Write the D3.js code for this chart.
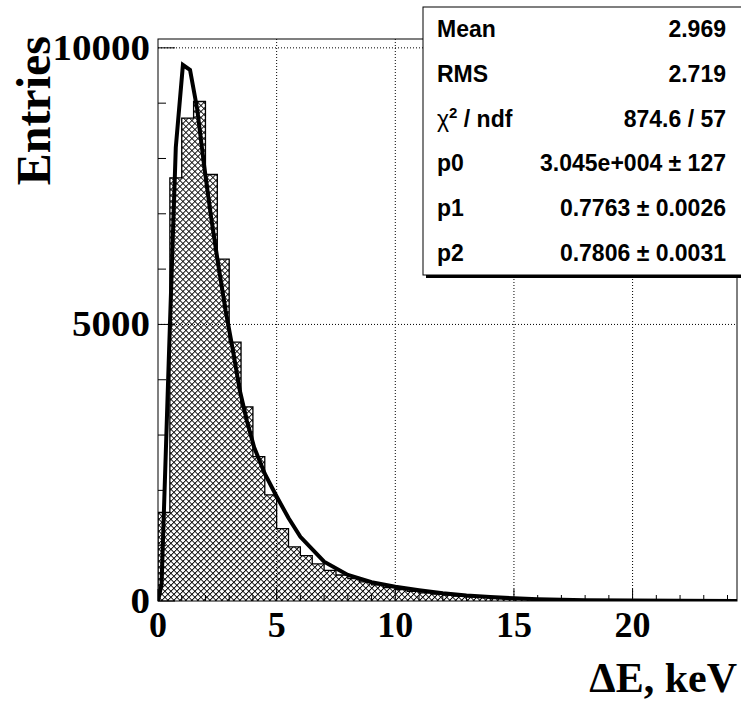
<!DOCTYPE html>
<html>
<head>
<meta charset="utf-8">
<title>Delta E histogram</title>
<script src="https://d3js.org/d3.v7.min.js"></script>
<style>
  body { margin: 0; background: #fff; }
  svg { display: block; }
</style>
</head>
<body>
<svg width="741" height="702"></svg>
<script>
// histogram: bin width 0.5 keV, left edges from 0
const binWidth = 0.5;
const counts = [1600, 7650, 8730, 9030, 7710, 6180, 4680, 3510, 2610, 1920,
                1310, 980, 820, 670, 555, 470, 405, 345, 290, 240,
                205, 175, 148, 125, 105, 90, 76, 64, 54, 46,
                39, 33, 28, 24, 20, 17, 14, 12, 10, 9,
                8, 7, 6, 5, 4, 4, 3, 3, 2];

// fit curve
const fitX = [0, 0.15, 0.45, 0.75, 1.05, 1.35, 1.65, 1.95, 2.25, 2.55, 2.85, 3.15, 3.45, 3.75, 4.05,
              4.5, 5, 5.5, 6, 7, 8, 9, 10, 11, 12, 13, 14, 15, 16, 18, 20, 22, 24.4];
const fitY = [0, 300, 4300, 8200, 9690, 9600, 8900, 7850, 6900, 6050, 5250, 4550, 3800, 3250, 2780,
              2300, 1890, 1500, 1160, 710, 470, 340, 259, 195, 139, 100, 72, 48, 32, 15, 7, 3, 1];

const xMajor = [0, 5, 10, 15, 20];
const yMajor = [0, 5000, 10000];
const yLabels = ["0", "5000", "10000"];

const statNames = ["Mean", "RMS", "chi", "p0", "p1", "p2"];
const statValues = ["2.969", "2.719", "874.6 / 57", "3.045e+004 \u00b1 127", "0.7763 \u00b1 0.0026", "0.7806 \u00b1 0.0031"];

const fLeft = 158, fRight = 737, fTop = 39, fBottom = 601;

const svg = d3.select("svg");

const x = d3.scaleLinear().domain([0, 24.4]).range([fLeft, fRight]);
const y = d3.scaleLinear().domain([0, 10160]).range([fBottom, fTop]);

// crosshatch fill
const defs = svg.append("defs");
const pat = defs.append("pattern")
    .attr("id", "hatch")
    .attr("patternUnits", "userSpaceOnUse")
    .attr("width", 4.24).attr("height", 4.24)
    .attr("patternTransform", "rotate(45)");
pat.append("path")
    .attr("d", "M0,0 L4.24,0 M0,0 L0,4.24")
    .attr("stroke", "#000").attr("stroke-width", 1.8);

defs.append("clipPath").attr("id", "frameClip")
  .append("rect")
    .attr("x", fLeft).attr("y", fTop - 10)
    .attr("width", fRight - fLeft).attr("height", fBottom - fTop + 10);

// grid
const grid = svg.append("g").attr("stroke", "#000").attr("stroke-width", 1)
    .attr("stroke-dasharray", "1,2");
xMajor.filter(v => v > 0).forEach(v => {
  grid.append("line").attr("x1", x(v)).attr("x2", x(v)).attr("y1", fTop).attr("y2", fBottom);
});
yMajor.filter(v => v > 0).forEach(v => {
  grid.append("line").attr("x1", fLeft).attr("x2", fRight).attr("y1", y(v)).attr("y2", y(v));
});

// histogram
const steps = [[0, 0]];
counts.forEach((c, i) => {
  steps.push([i * binWidth, c]);
  steps.push([(i + 1) * binWidth, c]);
});
steps.push([counts.length * binWidth, 0]);

const plot = svg.append("g").attr("clip-path", "url(#frameClip)");

plot.append("path")
    .datum(steps)
    .attr("d", d3.area().x(d => x(d[0])).y0(y(0)).y1(d => y(d[1])))
    .attr("fill", "url(#hatch)");

plot.append("path")
    .datum(steps)
    .attr("d", d3.line().x(d => x(d[0])).y(d => y(d[1])))
    .attr("fill", "none").attr("stroke", "#000").attr("stroke-width", 1.3);

// fit curve
plot.append("path")
    .datum(fitX.map((v, i) => [v, fitY[i]]))
    .attr("d", d3.line().x(d => x(d[0])).y(d => y(d[1])))
    .attr("fill", "none").attr("stroke", "#000").attr("stroke-width", 4)
    .attr("stroke-linejoin", "miter");

// frame
svg.append("rect")
    .attr("x", fLeft).attr("y", fTop)
    .attr("width", fRight - fLeft).attr("height", fBottom - fTop)
    .attr("fill", "none").attr("stroke", "#000").attr("stroke-width", 1);

// ticks
const ticks = svg.append("g").attr("stroke", "#000").attr("stroke-width", 1);
d3.range(0, 25, 1).forEach(v => {
  const len = v % 5 === 0 ? 12 : 6;
  ticks.append("line").attr("x1", x(v)).attr("x2", x(v)).attr("y1", fBottom).attr("y2", fBottom - len);
});
d3.range(0, 10001, 1000).forEach(v => {
  const len = v % 5000 === 0 ? 17 : 8;
  ticks.append("line").attr("x1", fLeft).attr("x2", fLeft + len).attr("y1", y(v)).attr("y2", y(v));
});

// tick labels
const serif = "'Liberation Serif', 'Times New Roman', serif";
svg.append("g").selectAll("text").data(xMajor).join("text")
    .attr("x", d => x(d)).attr("y", 637)
    .attr("text-anchor", "middle")
    .style("font-family", serif).style("font-weight", "bold").style("font-size", "36px")
    .text(d => d);

svg.append("g").selectAll("text").data(yMajor).join("text")
    .attr("x", 150).attr("y", d => y(d) + 12)
    .attr("text-anchor", "end")
    .attr("textLength", (d, i) => yLabels[i].length * 19.5)
    .attr("lengthAdjust", "spacingAndGlyphs")
    .style("font-family", serif).style("font-weight", "bold").style("font-size", "35px")
    .text((d, i) => yLabels[i]);

// axis titles
svg.append("text")
    .attr("x", 737).attr("y", 692)
    .attr("text-anchor", "end")
    .style("font-family", serif).style("font-weight", "bold").style("font-size", "42px")
    .text("\u0394E, keV");

svg.append("text")
    .attr("transform", "translate(50,36) rotate(-90)")
    .attr("text-anchor", "end")
    .style("font-family", serif).style("font-weight", "bold").style("font-size", "48px")
    .text("Entries");

// stats box
const bx = 423, by = 7, bw = 340, bh = 268;
svg.append("rect").attr("x", bx + 3).attr("y", by + 3).attr("width", bw).attr("height", bh).attr("fill", "#000");
svg.append("rect").attr("x", bx).attr("y", by).attr("width", bw).attr("height", bh)
    .attr("fill", "#fff").attr("stroke", "#000").attr("stroke-width", 1);

const sans = "'Liberation Sans', Arial, sans-serif";
const rowH = bh / statNames.length;
statNames.forEach((name, i) => {
  const baseY = by + rowH * (i + 0.5) + 8;
  const t = svg.append("text")
      .attr("x", 437).attr("y", baseY)
      .style("font-family", sans).style("font-weight", "bold").style("font-size", "23px");
  if (name === "chi") {
    t.append("tspan").style("font-weight", "normal").text("\u03c7");
    t.append("tspan").attr("dy", -9).style("font-size", "15px").text("2");
    t.append("tspan").attr("dy", 9).text(" / ndf");
  } else {
    t.text(name);
  }
  svg.append("text")
      .attr("x", 726).attr("y", baseY)
      .attr("text-anchor", "end")
      .style("font-family", sans).style("font-weight", "bold").style("font-size", "23px")
      .text(statValues[i]);
});
</script>
</body>
</html>
